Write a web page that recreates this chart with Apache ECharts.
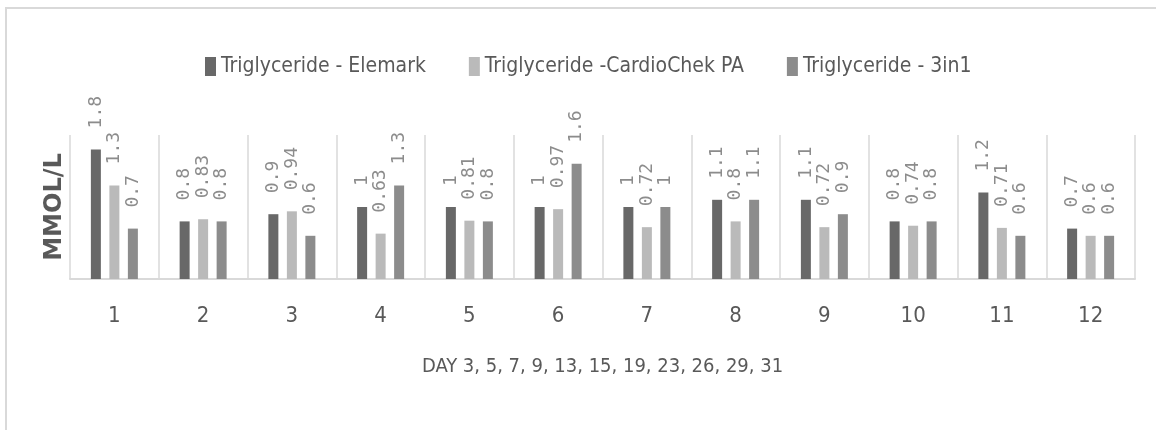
<!DOCTYPE html>
<html>
<head>
<meta charset="utf-8">
<script src="https://cdn.jsdelivr.net/npm/echarts@6/dist/echarts.min.js"></script>
<style>
  html, body { margin: 0; padding: 0; background: #fff; }
  #trig_chart { width: 1156px; height: 430px; }
</style>
</head>
<body>
<div id="trig_chart"></div>
<script>
(function() {
    "use strict";

    // days (category index) and values in mmol/L
    var days = ['1', '2', '3', '4', '5', '6', '7', '8', '9', '10', '11', '12'];
    var elemark = [1.8, 0.8, 0.9, 1, 1, 1, 1, 1.1, 1.1, 0.8, 1.2, 0.7];
    var cardiochek = [1.3, 0.83, 0.94, 0.63, 0.81, 0.97, 0.72, 0.8, 0.72, 0.74, 0.71, 0.6];
    var threeInOne = [0.7, 0.8, 0.6, 1.3, 0.8, 1.6, 1, 1.1, 0.9, 0.8, 0.6, 0.6];

    var names = ['Triglyceride - Elemark', 'Triglyceride -CardioChek PA', 'Triglyceride - 3in1'];
    var narrow = "'Liberation Sans Narrow', 'DejaVu Sans Condensed', sans-serif";

    var chart = echarts.init(document.getElementById('trig_chart'));

    // same label settings for each series
    function barLabel() {
        return {
            show: true,
            position: 'top',
            rotate: 90,
            align: 'left',
            verticalAlign: 'middle',
            distance: 21,
            color: '#8c8c8c',
            fontFamily: "'DejaVu Sans Mono', monospace",
            fontSize: 18
        };
    }

    var option = {
        animation: false,
        backgroundColor: '#ffffff',
        graphic: [
            {type: 'line', shape: {x1: 5, y1: 8, x2: 1156, y2: 8}, style: {stroke: '#d9d9d9', lineWidth: 2}},
            {type: 'line', shape: {x1: 6, y1: 8, x2: 6, y2: 430}, style: {stroke: '#d9d9d9', lineWidth: 2}}
        ],
        legend: {
            left: 200,
            top: 51,
            icon: 'rect',
            itemWidth: 11,
            itemHeight: 19,
            itemGap: 43,
            textStyle: {
                color: '#595959',
                fontFamily: narrow,
                fontSize: 21
            },
            data: names
        },
        grid: {
            left: 70,
            right: 21,
            top: 135,
            bottom: 151
        },
        xAxis: {
            type: 'category',
            data: days,
            name: 'DAY 3, 5, 7, 9, 13, 15, 19, 23, 26, 29, 31',
            nameLocation: 'middle',
            nameGap: 78,
            nameTextStyle: {
                color: '#595959',
                fontFamily: narrow,
                fontSize: 20
            },
            axisLine: {show: true, lineStyle: {color: '#d9d9d9', width: 2}},
            axisTick: {show: false},
            axisLabel: {
                color: '#595959',
                fontFamily: narrow,
                fontSize: 22,
                margin: 26
            },
            splitLine: {show: true, lineStyle: {color: '#d9d9d9', width: 1.5}}
        },
        yAxis: {
            type: 'value',
            min: 0,
            max: 2,
            name: 'MMOL/L',
            nameLocation: 'middle',
            nameGap: 3,
            nameTextStyle: {
                color: '#595959',
                fontFamily: "'DejaVu Sans', sans-serif",
                fontWeight: 'bold',
                fontSize: 24
            },
            axisLine: {show: false},
            axisTick: {show: false},
            axisLabel: {show: false},
            splitLine: {show: false}
        },
        series: [
            {
                name: names[0],
                type: 'bar',
                barWidth: 10,
                barGap: '85%',
                color: '#686868',
                label: barLabel(),
                data: elemark
            },
            {
                name: names[1],
                type: 'bar',
                barWidth: 10,
                barGap: '85%',
                color: '#bababa',
                label: barLabel(),
                data: cardiochek
            },
            {
                name: names[2],
                type: 'bar',
                barWidth: 10,
                barGap: '85%',
                color: '#8c8c8c',
                label: barLabel(),
                data: threeInOne
            }
        ]
    };

    chart.setOption(option);
})();
</script>
</body>
</html>
